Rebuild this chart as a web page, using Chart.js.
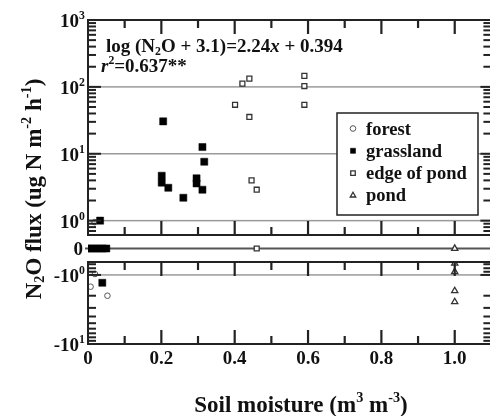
<!DOCTYPE html>
<html>
<head>
<meta charset="utf-8">
<script src="https://cdn.jsdelivr.net/npm/chart.js@4.4.0/dist/chart.umd.min.js"></script>
<style>
html, body { margin: 0; padding: 0; background: #fff; overflow: hidden; }
#wrap { position: relative; width: 500px; height: 416px; }
</style>
</head>
<body>
<div id="wrap"><canvas id="c"></canvas></div>
<script>
// soil moisture (m3 m-3) vs N2O flux (ug N m-2 h-1)
const forestX = [0.018, 0.005, 0.02, 0.035, 0.019, 0.007, 0.053];
const forestY = [0.95, 0, 0, 0, -0.97, -1.48, -2.0];

const grassX = [0.033, 0.205, 0.312, 0.317, 0.201, 0.201, 0.219, 0.26, 0.296, 0.296, 0.312,
                0.0, 0.01, 0.02, 0.03, 0.04, 0.05, 0.039];
const grassY = [1.0, 30.5, 12.6, 7.6, 4.7, 3.7, 3.1, 2.2, 4.3, 3.6, 2.9,
                0, 0, 0, 0, 0, 0, -1.3];

const edgeX = [0.421, 0.44, 0.59, 0.59, 0.401, 0.59, 0.44, 0.446, 0.46, 0.46];
const edgeY = [112, 133, 146, 103, 54, 54, 35.5, 4.0, 2.9, 0];

const pondX = [1.0, 1.0, 1.0, 1.0, 1.0];
const pondY = [0, -0.68, -0.9, -1.7, -2.45];

const seriesNames = ['forest', 'grassland', 'edge of pond', 'pond'];

const xTickVals = [0, 0.2, 0.4, 0.6, 0.8, 1.0];
const xTickLabels = ['0', '0.2', '0.4', '0.6', '0.8', '1.0'];
const yPosTicks = [1, 10, 100, 1000];
const yPosExp = ['0', '1', '2', '3'];
const yNegTicks = [1, 10];
const yNegExp = ['0', '1'];

const FONT = '"Liberation Serif", "DejaVu Serif", serif';
const INK = '#222';

let styles = [
    {pointStyle: 'circle', radius: 2.8, borderWidth: 1, fill: '#fff', stroke: '#555', order: 2},
    {pointStyle: 'rect', radius: 5, borderWidth: 0.5, fill: '#000', stroke: '#000', order: 0},
    {pointStyle: 'rect', radius: 3.5, borderWidth: 1.3, fill: '#fff', stroke: '#333', order: 1},
    {pointStyle: 'triangle', radius: 3.6, borderWidth: 1.3, fill: '#fff', stroke: '#333', order: 1}
];

function makeSets(name, xs, ys, st) {
    let pos = [], zero = [], neg = [];
    for (let i = 0; i < xs.length; i++) {
        if (ys[i] > 0) pos.push({x: xs[i], y: ys[i]});
        else if (ys[i] == 0) zero.push({x: xs[i], y: 0});
        else neg.push({x: xs[i], y: -ys[i]});
    }
    let base = {
        label: name,
        order: st.order,
        pointStyle: st.pointStyle,
        pointRadius: st.radius,
        pointHoverRadius: st.radius,
        pointBorderWidth: st.borderWidth,
        pointBackgroundColor: st.fill,
        pointBorderColor: st.stroke,
        showLine: false
    };
    return [
        Object.assign({}, base, {yAxisID: 'yTop', data: pos}),
        Object.assign({}, base, {yAxisID: 'yZero', data: zero}),
        Object.assign({}, base, {yAxisID: 'yBot', data: neg})
    ];
}

let datasets = [].concat(
    makeSets(seriesNames[0], forestX, forestY, styles[0]),
    makeSets(seriesNames[1], grassX, grassY, styles[1]),
    makeSets(seriesNames[2], edgeX, edgeY, styles[2]),
    makeSets(seriesNames[3], pondX, pondY, styles[3])
);

// text with sub/superscripts and italics: parts = [[text, mode], ...]
function drawRich(ctx, parts, x, y, size, align) {
    let items = parts.map(function(p) {
        let small = (p[1] == 'sup' || p[1] == 'sub');
        let s = small ? size * 0.62 : size;
        let font = (p[1] == 'i' ? 'italic ' : '') + 'bold ' + s + 'px ' + FONT;
        ctx.font = font;
        let dy = p[1] == 'sup' ? -size * 0.42 : (p[1] == 'sub' ? size * 0.15 : 0);
        return {t: p[0], font: font, w: ctx.measureText(p[0]).width, dy: dy};
    });
    let total = items.reduce(function(a, b) { return a + b.w; }, 0);
    let cx = align == 'right' ? x - total : (align == 'center' ? x - total / 2 : x);
    ctx.textAlign = 'left';
    ctx.textBaseline = 'alphabetic';
    ctx.fillStyle = '#111';
    items.forEach(function(it) {
        ctx.font = it.font;
        ctx.fillText(it.t, cx, y + it.dy);
        cx += it.w;
    });
}

function logTickVals(lo, hi) {
    let out = [];
    for (let e = -1; e < 4; e++) {
        for (let m = 1; m < 10; m++) {
            let v = m * Math.pow(10, e);
            if (v > lo * 1.0001 && v < hi * 0.9999) out.push({v: v, major: m == 1});
        }
    }
    return out;
}

const framePlugin = {
    id: 'frame',
    beforeDatasetsDraw(chart) {
        const ctx = chart.ctx, a = chart.chartArea, s = chart.scales;
        ctx.save();
        // grey decade lines
        ctx.fillStyle = '#9a9a9a';
        [1, 10, 100].forEach(function(v) {
            ctx.fillRect(a.left, s.yTop.getPixelForValue(v) - 0.75, a.right - a.left, 1.5);
        });
        ctx.fillRect(a.left, s.yBot.getPixelForValue(1) - 0.75, a.right - a.left, 1.5);
        // zero line
        ctx.fillStyle = '#555';
        ctx.fillRect(a.left - 3, s.yZero.getPixelForValue(0) - 1, a.right - a.left + 3, 2);
        ctx.restore();
    },
    afterDraw(chart) {
        const ctx = chart.ctx, a = chart.chartArea, s = chart.scales, xs = s.x;
        const top = s.yTop, bot = s.yBot;
        ctx.save();
        // inward ticks first, frames over them
        ctx.fillStyle = INK;
        let edges = [[top.top, 1], [top.bottom, -1], [bot.top, 1], [bot.bottom, -1]];
        for (let k = 1; k <= 10; k++) {
            let px = xs.getPixelForValue(k / 10);
            let len = (k % 2 == 0) ? 14 : 8;
            edges.forEach(function(e) {
                ctx.fillRect(px - 1.1, e[1] > 0 ? e[0] : e[0] - len, 2.2, len);
            });
        }
        [top, bot].forEach(function(p) {
            logTickVals(p.min, p.max).forEach(function(t) {
                let py = p.getPixelForValue(t.v);
                let lenL = t.major ? 13 : 8, lenR = t.major ? 11 : 8;
                ctx.fillRect(a.left, py - 1, lenL, 2);
                ctx.fillRect(a.right - lenR, py - 1, lenR, 2);
            });
        });

        ctx.strokeStyle = INK;
        ctx.lineWidth = 2;
        ctx.strokeRect(a.left, top.top, a.right - a.left, top.bottom - top.top);
        ctx.strokeRect(a.left, bot.top, a.right - a.left, bot.bottom - bot.top);
        ctx.restore();

        // y tick labels
        yPosTicks.forEach(function(v, i) {
            drawRich(ctx, [['10', ''], [yPosExp[i], 'sup']], 85, top.getPixelForValue(v) + 7, 19, 'right');
        });
        drawRich(ctx, [['0', '']], 83, s.yZero.getPixelForValue(0) + 6, 19, 'right');
        yNegTicks.forEach(function(v, i) {
            drawRich(ctx, [['-10', ''], [yNegExp[i], 'sup']], 85, bot.getPixelForValue(v) + 7, 19, 'right');
        });

        // regression text
        drawRich(ctx, [['log (N', ''], ['2', 'sub'], ['O + 3.1)=2.24', ''], ['x', 'i'], [' + 0.394', '']], 106, 52, 19, 'left');
        drawRich(ctx, [['r', 'i'], ['2', 'sup'], ['=0.637**', '']], 101, 72, 19, 'left');

        // axis titles
        drawRich(ctx, [['Soil moisture (m', ''], ['3', 'sup'], [' m', ''], ['-3', 'sup'], [')', '']], 301, 412, 23, 'center');
        ctx.save();
        ctx.translate(41, 189);
        ctx.rotate(-Math.PI / 2);
        drawRich(ctx, [['N', ''], ['2', 'sub'], ['O flux (ug N m', ''], ['-2', 'sup'], [' h', ''], ['-1', 'sup'], [')', '']], 0, 0, 23, 'center');
        ctx.restore();

        // legend
        ctx.save();
        ctx.fillStyle = '#fff';
        ctx.fillRect(337, 113, 141, 102);
        ctx.strokeStyle = INK;
        ctx.lineWidth = 1.5;
        ctx.strokeRect(337, 113, 141, 102);
        seriesNames.forEach(function(name, i) {
            let ly = 128.5 + i * 22.3;
            let st = styles[i];
            ctx.fillStyle = st.fill;
            ctx.strokeStyle = st.stroke;
            ctx.lineWidth = st.borderWidth;
            Chart.helpers.drawPoint(ctx, {pointStyle: st.pointStyle, radius: i == 1 ? 3.6 : Math.min(st.radius, 3.2), borderWidth: st.borderWidth, rotation: 0}, 353, ly);
            drawRich(ctx, [[name, '']], 366, ly + 6, 18.5, 'left');
        });
        ctx.restore();
    }
};

const hiddenY = {ticks: {display: false}, grid: {display: false, drawTicks: false}, border: {display: false}};

new Chart(document.getElementById('c'), {
    type: 'scatter',
    data: {datasets: datasets},
    options: {
        animation: false,
        responsive: true,
        maintainAspectRatio: false,
        layout: {padding: {top: 20, right: 8.6, left: 0, bottom: 0}},
        plugins: {legend: {display: false}, tooltip: {enabled: false}},
        events: [],
        scales: {
            x: {
                type: 'linear', min: 0, max: 1.1,
                afterBuildTicks: function(sc) { sc.ticks = xTickVals.map(function(v) { return {value: v}; }); },
                afterFit: function(sc) { sc.height = 72; },
                ticks: {
                    autoSkip: false, maxRotation: 0, padding: 4, color: '#111',
                    font: {family: FONT, size: 19, weight: 'bold'},
                    callback: function(v) { return xTickLabels[xTickVals.indexOf(v)]; }
                },
                grid: {display: false, drawTicks: false},
                border: {display: false}
            },
            yBot: Object.assign({
                type: 'logarithmic', position: 'left', stack: 'y', stackWeight: 82,
                min: 0.65, max: 10, reverse: true, bounds: 'data',
                afterFit: function(sc) { sc.width = 88; }
            }, hiddenY),
            yZero: Object.assign({
                type: 'linear', position: 'left', stack: 'y', stackWeight: 27,
                min: -1, max: 1,
                afterFit: function(sc) { sc.width = 88; }
            }, hiddenY),
            yTop: Object.assign({
                type: 'logarithmic', position: 'left', stack: 'y', stackWeight: 215,
                min: 0.61, max: 1000, bounds: 'data',
                afterFit: function(sc) { sc.width = 88; }
            }, hiddenY)
        }
    },
    plugins: [framePlugin]
});
</script>
</body>
</html>
